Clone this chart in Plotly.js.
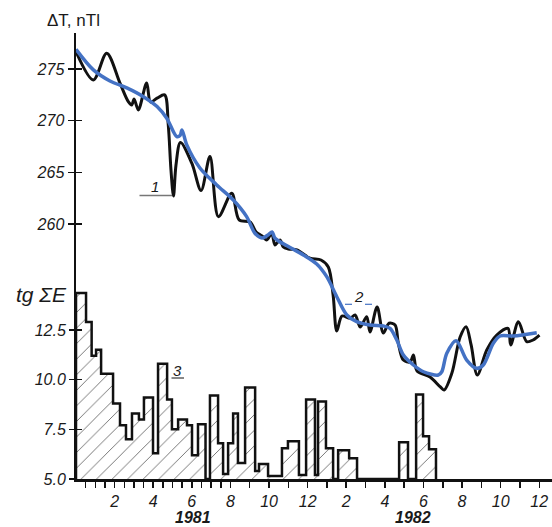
<!DOCTYPE html>
<html>
<head>
<meta charset="utf-8">
<script src="https://cdn.plot.ly/plotly-3.0.1.min.js"></script>
<style>html,body{margin:0;padding:0;background:#fff;}#chart{width:552px;height:527px;}</style>
</head>
<body>
<div id="chart"></div>
<script>
// months counted from 1 Jan 1981
const observedMonths = [0,0.90,1.59,2.28,2.71,2.89,3.01,3.23,3.66,3.86,4.20,4.59,4.78,4.92,5.05,5.18,5.41,6.00,6.48,6.94,7.38,8.07,8.45,9.02,9.33,9.64,9.88,10.14,10.31,10.57,10.74,11.00,11.45,12.12,12.69,13.07,13.32,13.51,13.78,14.20,14.46,14.72,15.06,15.23,15.60,15.92,16.22,16.53,16.70,16.96,17.31,17.48,17.67,18.34,18.86,19.07,19.47,19.90,20.21,20.47,20.79,21.28,21.80,22.38,22.52,22.92,23.35,23.68,24.01];
const observedDT = [276.68,273.94,276.52,273.62,271.84,271.52,272.10,271.04,273.65,271.81,272.17,272.49,269.58,265.23,262.71,265.71,267.89,265.88,263.24,266.52,260.71,262.97,260.39,260.19,259.23,258.84,258.45,259.10,257.97,258.45,257.77,257.58,257.48,256.68,256.51,255.84,253.13,249.64,251.09,250.87,251.19,250.03,251.03,249.55,251.97,249.45,250.39,250.22,248.45,246.83,246.64,247.32,245.77,245.19,244.25,243.93,245.55,249.06,250.06,248.29,245.38,247.80,249.25,249.90,248.29,250.54,248.61,248.77,249.25];

const smoothMonths = [0,0.90,1.76,2.63,3.49,4.20,4.70,5.22,5.39,5.49,5.74,6.42,7.29,8.15,8.84,9.27,9.64,9.95,10.16,10.31,11.09,11.78,12.47,12.99,13.51,14.03,14.54,15.23,15.92,16.27,16.62,16.96,17.48,18.00,18.77,18.95,19.21,19.69,20.24,20.76,21.10,21.62,21.97,22.66,23.87];
const smoothDT = [276.9,274.91,273.84,273.17,272.32,271.36,270.23,268.45,268.55,269.10,267.65,265.42,263.78,262.32,260.71,259.10,258.64,258.94,259.23,258.62,257.73,257.00,256.13,254.90,252.96,251.19,250.54,250.22,250.13,249.90,248.77,247.32,246.35,245.70,245.38,245.70,247.48,248.70,246.83,246.03,246.35,248.45,249.16,249.16,249.48];

// histogram of tg ΣE: bin left edges (months), end edge, levels
const energyEdges = [0,0.52,0.81,1.04,1.30,1.92,2.28,2.59,2.90,3.26,3.52,3.99,4.25,4.72,4.97,5.29,5.75,6.01,6.32,6.71,6.94,7.36,7.62,7.88,8.14,8.39,8.76,9.28,9.48,9.95,10.67,10.98,11.55,11.92,12.38,12.54,12.95,13.32,13.58,14.15,14.56,16.74,17.20,17.62,17.98,18.29];
const energyEnd = 18.65;
const energyLevels = [14.36,12.9,11.2,11.5,10.3,8.8,7.7,7.0,8.3,8.0,9.1,6.3,10.8,9.0,7.5,8.0,7.7,6.2,7.75,5.0,9.2,6.8,5.25,6.8,8.3,5.8,9.6,5.4,5.75,5.15,6.55,6.9,5.2,9.0,5.2,8.9,6.55,5.0,6.45,6.05,5.0,6.85,5.0,9.25,7.15,6.5];
const energyBase = 5.0;

const dtTicks = [260,265,270,275];
const energyTicks = [5.0,7.5,10.0,12.5];
const energyTickText = ['5.0','7.5','10.0','12.5'];

const xTickVals = [];
const xTickText = [];
for (let m = 0.5; m <= 7.5; m += 0.5) { xTickVals.push(m); }
for (let m = 8; m <= 24; m += 1) { xTickVals.push(m); }
xTickVals.forEach(v => {
  if (Number.isInteger(v) && v % 2 === 0) { xTickText.push(String(v <= 12 ? v : v - 12)); }
  else { xTickText.push(''); }
});

const hx = [energyEdges[0]];
const hy = [energyBase];
energyEdges.forEach((e, i) => { hx.push(e); hy.push(energyLevels[i]); });
hx.push(energyEnd); hy.push(energyBase);

const FONT = 'Liberation Sans, Arial, sans-serif';
const tickFont = {family: FONT, size: 16, color: '#1a1a1a', style: 'italic'};

const traces = [
  {type: 'scatter', mode: 'lines', x: hx, y: hy, yaxis: 'y2', line: {shape: 'hv', color: '#111', width: 2.5},
   fill: 'tozeroy', fillcolor: 'rgba(255,255,255,1)',
   fillpattern: {shape: '/', fgcolor: '#666', bgcolor: 'rgba(255,255,255,1)', size: 11, solidity: 0.08},
   hoverinfo: 'skip', showlegend: false},
  {type: 'scatter', mode: 'lines', x: observedMonths, y: observedDT, line: {shape: 'spline', smoothing: 0.9, color: '#111', width: 3}, showlegend: false},
  {type: 'scatter', mode: 'lines', x: smoothMonths, y: smoothDT, line: {shape: 'spline', smoothing: 0.9, color: '#4472c4', width: 3.5}, showlegend: false},
  {type: 'scatter', x: [], y: [], yaxis: 'y3', showlegend: false, hoverinfo: 'skip'},
  {type: 'scatter', x: [], y: [], yaxis: 'y4', showlegend: false, hoverinfo: 'skip'}
];

const dtRange = [235.32, 278.48];
const enRange = [5.0, 27.45];

const W = 476, H = 446, L = 76, B = 479;
const px = v => (v - L) / W;
const py = v => (B - v) / H;

const layout = {
  width: 552, height: 527,
  margin: {l: 76, r: 0, t: 33, b: 48},
  paper_bgcolor: '#fff', plot_bgcolor: '#fff',
  font: {family: FONT, color: '#1a1a1a'},
  showlegend: false,
  xaxis: {range: [0, 24.66], showgrid: false, zeroline: false, showline: true, linecolor: '#111', linewidth: 2.5,
          ticks: 'outside', ticklen: 6, tickwidth: 1.5, tickcolor: '#111',
          tickmode: 'array', tickvals: xTickVals, ticktext: xTickText, tickfont: tickFont},
  yaxis: {range: dtRange, showgrid: false, zeroline: false, showline: true, linecolor: '#111', linewidth: 2.5,
          ticks: 'outside', ticklen: 6, tickwidth: 1.5, tickcolor: '#111',
          tickmode: 'array', tickvals: dtTicks, ticktext: dtTicks.map(String), tickfont: tickFont},
  yaxis2: {overlaying: 'y', anchor: 'x', side: 'left', range: enRange, showgrid: false, zeroline: false, showline: false,
           ticks: 'outside', ticklen: 6, tickwidth: 1.5, tickcolor: '#111',
           tickmode: 'array', tickvals: energyTicks, ticktext: energyTickText, tickfont: tickFont},
  yaxis3: {overlaying: 'y', anchor: 'x', side: 'left', range: dtRange, showgrid: false, zeroline: false, showline: false,
           ticks: 'inside', ticklen: 6, tickwidth: 1.5, tickcolor: '#111', showticklabels: false,
           tickmode: 'array', tickvals: dtTicks},
  yaxis4: {overlaying: 'y', anchor: 'x', side: 'left', range: enRange, showgrid: false, zeroline: false, showline: false,
           ticks: 'inside', ticklen: 6, tickwidth: 1.5, tickcolor: '#111', showticklabels: false,
           tickmode: 'array', tickvals: energyTicks},
  annotations: [
    {xref: 'paper', yref: 'paper', x: px(73), y: py(20), text: 'ΔT, nTl', showarrow: false, xanchor: 'center', yanchor: 'middle',
     font: {family: FONT, size: 17, color: '#1a1a1a'}},
    {xref: 'paper', yref: 'paper', x: px(41), y: py(295), text: 'tg ΣE', showarrow: false, xanchor: 'center', yanchor: 'middle',
     font: {family: FONT, size: 21, color: '#1a1a1a', style: 'italic'}},
    {xref: 'paper', yref: 'paper', x: px(155), y: py(186), text: '1', showarrow: false, xanchor: 'center', yanchor: 'middle',
     font: {family: FONT, size: 15, color: '#1a1a1a', style: 'italic'}},
    {xref: 'paper', yref: 'paper', x: px(358.5), y: py(297), text: '2', showarrow: false, xanchor: 'center', yanchor: 'middle',
     font: {family: FONT, size: 15, color: '#1a1a1a', style: 'italic'}},
    {xref: 'paper', yref: 'paper', x: px(177), y: py(370), text: '3', showarrow: false, xanchor: 'center', yanchor: 'middle',
     font: {family: FONT, size: 15, color: '#1a1a1a', style: 'italic'}},
    {xref: 'paper', yref: 'paper', x: px(193), y: py(517), text: '1981', showarrow: false, xanchor: 'center', yanchor: 'middle',
     font: {family: FONT, size: 16, color: '#1a1a1a', style: 'italic', weight: 'bold'}},
    {xref: 'paper', yref: 'paper', x: px(413), y: py(517), text: '1982', showarrow: false, xanchor: 'center', yanchor: 'middle',
     font: {family: FONT, size: 16, color: '#1a1a1a', style: 'italic', weight: 'bold'}}
  ],
  shapes: [
    {type: 'line', xref: 'paper', yref: 'paper', x0: px(139.5), x1: px(172), y0: py(195.5), y1: py(195.5), line: {color: '#777', width: 1.5}},
    {type: 'line', xref: 'paper', yref: 'paper', x0: px(345), x1: px(352), y0: py(304.3), y1: py(304.3), line: {color: '#4472c4', width: 1.2}},
    {type: 'line', xref: 'paper', yref: 'paper', x0: px(365), x1: px(372), y0: py(304.3), y1: py(304.3), line: {color: '#4472c4', width: 1.2}},
    {type: 'line', xref: 'paper', yref: 'paper', x0: px(171.5), x1: px(184), y0: py(378), y1: py(378), line: {color: '#111', width: 1}}
  ]
};

Plotly.newPlot('chart', traces, layout, {displayModeBar: false, staticPlot: true});
</script>
</body>
</html>
